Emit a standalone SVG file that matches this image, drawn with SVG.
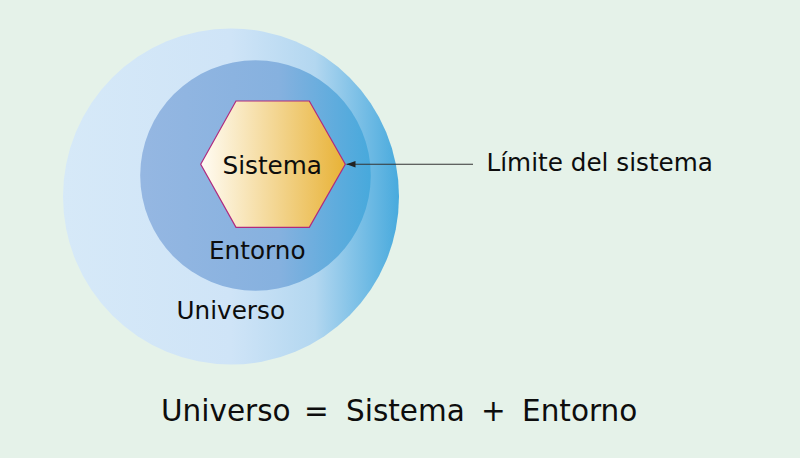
<svg xmlns="http://www.w3.org/2000/svg" width="800" height="458" viewBox="0 0 800 458">
<defs>
<linearGradient id="gOuter" x1="0" y1="0" x2="1" y2="0">
<stop offset="0" stop-color="#d6e9f8"/>
<stop offset="0.5" stop-color="#cfe4f7"/>
<stop offset="0.75" stop-color="#b3d7f0"/>
<stop offset="1" stop-color="#48aadd"/>
</linearGradient>
<linearGradient id="gInner" x1="0" y1="0" x2="1" y2="0">
<stop offset="0" stop-color="#95b7e2"/>
<stop offset="0.6" stop-color="#86b1df"/>
<stop offset="1" stop-color="#47a9dc"/>
</linearGradient>
<linearGradient id="gHex" x1="0" y1="0" x2="1" y2="0">
<stop offset="0" stop-color="#fffcf4"/>
<stop offset="1" stop-color="#e8b236"/>
</linearGradient>
<marker id="arr" markerWidth="10" markerHeight="8" refX="9" refY="4" orient="auto" markerUnits="userSpaceOnUse">
<path d="M0,0.8 L9,4 L0,7.2 Z" fill="#222"/>
</marker>
<style>
.t{font-family:"DejaVu Sans",Verdana,sans-serif;fill:#0d0d0d;}
.m{font-size:24.7px;}
.b{font-size:29.5px;}
</style>
</defs>
<rect width="800" height="458" fill="#e5f2e9"/>
<g id="universo">
<circle cx="231" cy="196.5" r="168" fill="url(#gOuter)"/>
<text class="t m" x="176.5" y="319.3">Universo</text>
</g>
<g id="entorno">
<circle cx="255.5" cy="175.5" r="115.3" fill="url(#gInner)"/>
<text class="t m" x="209" y="258.7">Entorno</text>
</g>
<g id="sistema">
<polygon points="200.7,164.3 236,101 309.3,101 345.3,164.3 309.3,227.3 236,227.3" fill="url(#gHex)" stroke="#b02a7e" stroke-width="1.2"/>
<text class="t m" x="222.5" y="174">Sistema</text>
</g>
<g id="connectors">
<line x1="473" y1="164.3" x2="346.5" y2="164.3" stroke="#333" stroke-width="1.1" marker-end="url(#arr)"/>
</g>
<g id="limite">
<text class="t m" x="486.5" y="171">Límite del sistema</text>
</g>
<g id="ecuacion">
<text class="t b" y="420.7"><tspan x="161">Universo</tspan><tspan x="304">=</tspan><tspan x="346">Sistema</tspan><tspan x="481">+</tspan><tspan x="522">Entorno</tspan></text>
</g>
</svg>
